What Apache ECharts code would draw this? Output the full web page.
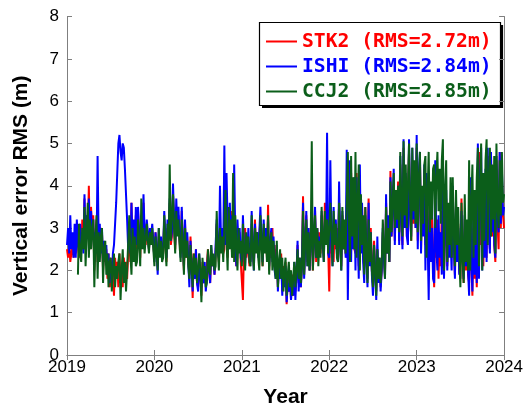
<!doctype html>
<html lang="en">
<head>
<meta charset="UTF-8">
<title>Vertical error RMS</title>
<style>
  html, body { margin: 0; padding: 0; background: #fff; }
  #main { width: 526px; height: 413px; }
</style>
</head>
<body>
<div id="main"></div>
<script src="https://cdn.jsdelivr.net/npm/echarts@6/dist/echarts.min.js"></script>
<script>
// samples every 1/80 year starting 2019.0, one row = 0.1 year
var startYear = 2019;
var stepsPerYear = 80;

var stk2 = [
  2.5, 2.3, 2.6, 2.2, 2.4, 2.6, 2.3, 2.5,
  2.4, 3.1, 2.6, 2.3, 3.0, 2.5, 3.2, 2.7,
  3.7, 2.6, 3.3, 2.8, 4.0, 2.5, 3.5, 2.9,
  3.3, 2.0, 2.8, 3.2, 2.2, 2.9, 2.4, 3.0,
  2.9, 2.0, 2.6, 2.2, 2.5, 1.8, 2.4, 1.6,
  2.3, 1.6, 2.1, 1.4, 2.3, 1.8, 2.2, 1.6,
  2.4, 1.7, 2.0, 1.6, 2.3, 1.9, 2.2, 1.8,
  2.4, 2.9, 2.2, 3.6, 2.5, 3.1, 2.2, 3.3,
  2.5, 3.4, 2.8, 2.3, 3.2, 2.6, 3.6, 2.7,
  2.6, 3.1, 2.8, 2.5, 3.0, 2.7, 2.9, 2.6,
  2.3, 2.9, 2.5, 2.1, 2.8, 2.4, 2.7, 2.3,
  2.4, 3.2, 2.7, 2.2, 3.0, 2.8, 3.6, 2.6,
  2.8, 3.8, 3.0, 2.5, 3.5, 2.9, 3.3, 2.7,
  2.4, 3.4, 2.6, 2.0, 3.1, 2.3, 2.8, 2.2,
  1.9, 2.8, 2.2, 1.35, 2.4, 1.8, 2.5, 1.7,
  1.6, 2.3, 1.9, 1.4, 2.2, 1.7, 2.0, 1.8,
  1.8, 2.5, 2.0, 1.7, 2.4, 2.1, 2.3, 1.9,
  2.4, 3.1, 2.6, 2.2, 2.9, 2.5, 3.0, 2.4,
  2.5, 3.6, 2.8, 2.3, 3.3, 2.6, 3.4, 2.4,
  2.3, 3.2, 2.5, 2.1, 3.0, 2.6, 2.9, 2.2,
  2.2, 1.3, 2.6, 3.0, 2.3, 2.8, 2.4, 2.1,
  2.3, 3.1, 2.5, 2.1, 3.2, 2.6, 2.9, 2.4,
  2.4, 3.2, 2.6, 2.1, 3.0, 2.5, 2.8, 2.3,
  3.55, 2.0, 2.8, 2.3, 3.0, 2.1, 2.6, 1.9,
  2.5, 1.6, 2.2, 1.8, 2.4, 1.5, 2.1, 1.7,
  2.2, 1.2, 1.8, 1.5, 2.0, 1.3, 1.9, 1.4,
  2.1, 1.5, 1.9, 2.6, 1.7, 2.3, 1.6, 2.2,
  3.75, 1.9, 2.7, 3.3, 2.2, 3.0, 2.0, 2.8,
  3.3, 2.0, 2.7, 3.4, 2.2, 3.0, 2.4, 2.9,
  2.4, 3.3, 2.7, 2.3, 3.6, 2.6, 3.2, 2.5,
  1.5, 3.4, 2.4, 2.9, 2.2, 3.2, 2.5, 3.0,
  2.3, 3.6, 2.6, 2.1, 3.3, 2.5, 3.1, 2.4,
  2.3, 4.5, 3.0, 2.6, 4.3, 2.8, 3.8, 2.5,
  2.4, 4.3, 2.9, 2.1, 3.8, 2.6, 3.5, 2.3,
  2.1, 3.5, 2.5, 1.8, 3.7, 2.2, 3.0, 2.0,
  1.7, 2.7, 2.0, 1.5, 2.5, 1.8, 2.3, 1.6,
  2.0, 2.9, 2.3, 1.9, 3.6, 2.4, 3.2, 2.2,
  4.35, 2.8, 3.6, 4.0, 2.7, 3.8, 3.0, 4.1,
  2.7, 4.5, 3.2, 2.6, 4.9, 3.0, 4.2, 2.8,
  2.8, 4.8, 3.4, 2.7, 4.6, 3.1, 4.4, 3.0,
  4.9, 2.7, 4.1, 4.6, 2.5, 3.8, 2.9, 4.4,
  2.6, 4.2, 3.0, 2.0, 3.7, 2.4, 3.3, 2.2,
  1.6, 3.6, 2.3, 3.2, 1.8, 2.9, 2.1, 3.4,
  3.3, 2.0, 2.8, 3.7, 2.1, 3.2, 2.4, 3.0,
  2.3, 3.5, 2.6, 1.9, 3.6, 2.2, 3.1, 2.0,
  1.8, 3.7, 2.4, 1.7, 3.2, 2.0, 2.9, 1.9,
  1.7, 3.4, 2.2, 1.4, 3.0, 1.8, 2.6, 1.6,
  3.2, 2.0, 4.8, 2.6, 4.1, 2.1, 3.6, 2.4,
  2.3, 4.7, 3.0, 2.5, 4.8, 2.8, 4.3, 2.6,
  2.2, 4.6, 3.1, 2.5, 4.8, 3.0, 4.2, 3.3,
  3.0
];

var ishi = [
  2.6, 3.0, 2.4, 3.3, 2.5, 2.9, 2.3, 3.1,
  2.3, 3.2, 2.6, 2.4, 3.1, 2.5, 2.9, 2.4,
  3.8, 2.5, 3.3, 2.8, 3.7, 2.6, 3.4, 2.8,
  3.2, 2.2, 2.9, 2.4, 4.7, 2.6, 3.1, 2.4,
  3.0, 2.1, 2.7, 2.3, 2.6, 1.9, 2.4, 1.7,
  2.2, 1.8, 2.4, 2.6, 3.1, 3.6, 4.3, 5.0,
  5.2, 4.8, 4.6, 5.0, 4.9, 4.4, 3.8, 3.2,
  2.5, 2.8, 2.4, 3.6, 2.6, 3.2, 2.4, 3.5,
  2.6, 3.5, 2.9, 2.6, 3.3, 2.8, 3.8, 2.9,
  2.7, 3.2, 2.9, 2.5, 3.0, 2.8, 3.1, 2.7,
  2.2, 2.9, 2.5, 1.9, 3.0, 2.4, 2.8, 2.3,
  2.5, 3.4, 2.8, 2.3, 3.2, 2.9, 3.7, 2.7,
  2.9, 4.05, 3.2, 2.6, 3.7, 3.0, 3.5, 2.8,
  2.3, 3.5, 2.7, 2.1, 3.2, 2.4, 2.9, 2.2,
  1.6, 2.7, 2.1, 1.5, 2.3, 1.8, 2.5, 1.7,
  1.5, 2.4, 1.8, 1.6, 2.0, 1.7, 2.2, 1.5,
  1.8, 2.4, 2.0, 1.7, 2.6, 2.1, 2.3, 1.9,
  2.6, 3.2, 2.4, 2.3, 4.0, 2.6, 3.0, 2.5,
  4.95, 2.6, 4.3, 3.1, 2.5, 3.6, 2.7, 3.3,
  2.4, 4.5, 2.8, 2.1, 3.2, 2.6, 3.0, 2.3,
  2.2, 3.3, 2.5, 2.1, 2.8, 2.4, 3.0, 2.3,
  2.2, 3.4, 2.6, 2.0, 3.1, 2.5, 2.9, 2.3,
  2.3, 3.5, 2.7, 2.2, 3.2, 2.5, 3.0, 2.4,
  3.2, 2.1, 2.7, 3.0, 2.2, 2.8, 2.0, 1.8,
  2.6, 1.5, 2.2, 1.8, 2.3, 1.4, 2.0, 1.6,
  2.1, 1.25, 1.7, 1.5, 1.9, 1.3, 1.8, 1.4,
  2.2, 1.3, 1.9, 2.7, 1.5, 2.3, 1.6, 2.1,
  3.6, 1.8, 2.6, 3.4, 2.1, 3.0, 2.0, 2.8,
  3.2, 2.1, 2.7, 3.5, 2.3, 3.0, 2.4, 2.8,
  2.5, 3.4, 2.7, 2.2, 3.3, 2.6, 5.25, 2.4,
  2.3, 4.6, 2.7, 2.1, 3.5, 2.6, 3.2, 2.4,
  2.2, 4.1, 2.7, 2.0, 3.4, 2.5, 3.1, 2.3,
  4.85, 1.3, 3.3, 4.6, 2.2, 3.8, 2.5, 4.2,
  2.0, 4.2, 2.8, 1.8, 4.5, 2.4, 3.6, 2.2,
  1.7, 3.3, 2.3, 1.6, 3.6, 2.1, 2.9, 1.9,
  1.4, 2.6, 1.9, 1.3, 2.8, 1.7, 2.3, 1.5,
  2.0, 3.0, 2.3, 1.8, 3.8, 2.4, 3.3, 2.2,
  4.2, 2.8, 3.6, 4.4, 2.6, 3.9, 3.0, 4.0,
  2.6, 4.7, 3.3, 2.5, 5.1, 3.0, 4.3, 2.8,
  2.6, 5.1, 3.4, 2.8, 4.9, 3.2, 4.5, 3.0,
  5.2, 2.5, 4.3, 4.8, 2.4, 3.9, 2.8, 4.5,
  2.0, 4.3, 2.8, 1.3, 3.5, 2.2, 3.0, 1.8,
  1.7, 4.6, 2.5, 2.0, 3.3, 2.3, 2.9, 1.9,
  4.6, 1.8, 3.2, 3.9, 2.0, 3.0, 2.3, 2.8,
  2.0, 4.0, 2.6, 1.8, 3.4, 2.2, 3.0, 1.9,
  1.9, 3.4, 2.3, 1.8, 3.3, 2.1, 2.8, 2.0,
  1.4, 4.2, 2.2, 1.5, 3.6, 1.9, 3.1, 1.7,
  5.0, 1.8, 4.2, 4.9, 2.0, 3.7, 2.3, 4.4,
  2.2, 4.9, 3.0, 2.4, 4.8, 2.9, 4.3, 2.6,
  2.3, 4.7, 3.2, 2.9, 4.8, 3.1, 4.4, 3.3,
  3.5
];

var ccj2 = [
  null, null, null, null, null, null, null, null,
  null, null, 1.9, 3.1, 2.4, 2.2, 3.0, 2.5,
  3.5, 2.1, 2.9, 3.6, 2.3, 3.2, 2.5, 3.0,
  3.2, 1.6, 2.7, 3.3, 1.8, 2.9, 2.2, 2.8,
  3.0, 1.7, 2.5, 2.7, 1.9, 2.4, 1.6, 2.2,
  2.3, 1.5, 2.0, 2.4, 1.6, 2.1, 1.8, 2.2,
  2.4, 1.3, 2.0, 2.5, 1.7, 2.2, 1.5, 2.0,
  2.0, 3.3, 2.4, 1.9, 3.0, 2.2, 2.8, 2.1,
  2.2, 3.2, 2.6, 2.1, 3.7, 2.5, 3.0, 2.4,
  2.4, 3.1, 2.7, 2.4, 2.9, 2.6, 3.0, 2.5,
  2.1, 2.8, 2.4, 2.0, 3.0, 2.3, 2.7, 2.2,
  2.3, 3.3, 2.6, 2.1, 3.1, 2.5, 4.5, 2.7,
  2.7, 3.8, 3.0, 2.4, 3.4, 2.8, 3.2, 2.6,
  2.2, 3.2, 2.6, 1.9, 3.0, 2.3, 2.7, 2.1,
  1.8, 2.6, 2.1, 1.6, 2.4, 1.9, 2.3, 1.7,
  1.7, 2.4, 2.0, 1.25, 2.3, 1.8, 2.1, 1.6,
  1.7, 2.5, 2.0, 1.9, 2.6, 2.1, 2.4, 2.0,
  2.1, 3.4, 2.5, 2.0, 3.0, 2.4, 2.8, 2.2,
  2.2, 3.9, 2.7, 2.0, 3.5, 2.5, 3.2, 2.3,
  4.3, 2.2, 3.3, 2.6, 2.0, 3.0, 2.4, 2.7,
  2.1, 3.1, 2.5, 2.0, 2.9, 2.4, 2.8, 2.2,
  2.1, 3.3, 2.5, 2.0, 3.0, 2.4, 2.9, 2.3,
  2.0, 3.3, 2.6, 2.1, 3.1, 2.4, 2.8, 2.2,
  3.3, 1.9, 2.6, 2.9, 2.0, 2.7, 2.1, 1.8,
  2.7, 1.6, 2.2, 2.5, 1.8, 2.3, 1.5, 2.0,
  2.3, 1.4, 1.9, 2.2, 1.6, 2.0, 1.4, 1.8,
  2.2, 1.6, 2.0, 2.5, 1.8, 2.3, 1.7, 2.1,
  3.4, 1.9, 2.7, 3.2, 2.1, 2.9, 2.0, 2.6,
  5.05, 2.0, 2.8, 3.3, 2.3, 3.0, 2.1, 2.7,
  2.3, 3.5, 2.7, 2.2, 3.4, 2.6, 3.2, 2.4,
  2.4, 3.6, 2.8, 2.1, 3.4, 2.6, 3.1, 2.3,
  2.2, 3.6, 2.7, 2.0, 3.5, 2.5, 3.2, 2.4,
  2.4, 4.8, 3.1, 2.2, 4.7, 2.8, 4.2, 2.5,
  4.8, 2.3, 3.6, 4.5, 2.0, 3.8, 2.6, 3.3,
  1.9, 3.5, 2.4, 1.7, 3.2, 2.2, 2.9, 2.0,
  1.6, 2.6, 2.0, 1.4, 2.5, 1.8, 2.3, 1.7,
  2.1, 3.2, 2.5, 1.8, 3.5, 2.4, 3.0, 2.2,
  4.1, 2.9, 3.6, 4.3, 3.0, 3.9, 3.2, 4.0,
  2.9, 4.8, 3.5, 2.8, 5.05, 3.3, 4.5, 3.0,
  3.0, 5.0, 3.6, 2.7, 4.9, 3.4, 4.6, 3.1,
  5.0, 2.9, 4.2, 4.8, 2.7, 4.0, 3.1, 4.5,
  4.7, 2.3, 3.8, 4.8, 2.9, 4.1, 3.2, 4.4,
  4.5, 3.0, 4.2, 4.8, 3.4, 4.4, 3.1, 4.6,
  5.1, 2.0, 3.9, 4.6, 2.2, 3.6, 2.6, 4.2,
  2.3, 4.2, 2.9, 2.1, 3.9, 2.6, 3.5, 2.4,
  1.6, 3.6, 2.3, 1.7, 3.8, 2.2, 3.2, 2.0,
  4.6, 2.0, 3.6, 4.5, 2.3, 3.9, 2.6, 4.2,
  4.9, 2.1, 4.0, 5.0, 2.0, 4.3, 2.7, 4.6,
  5.1, 2.6, 4.2, 4.9, 2.8, 4.5, 3.2, 4.7,
  2.4, 5.0, 3.5, 3.0, 4.6, 3.3, 4.8, 3.6,
  3.8
];

function toPairs(values) {
    var out = [];
    for (var i = 0; i < values.length; i++) {
        out.push([startYear + i / stepsPerYear, values[i]]);
    }
    return out;
}

var axisGray = '#7f7f7f';
var tickFont = { fontFamily: 'Liberation Sans', fontSize: 17, color: '#000' };

var myChart = echarts.init(document.getElementById('main'));

var option = {
    animation: false,
    backgroundColor: '#fff',
    grid: { left: 67, right: 20, top: 16.5, bottom: 48 },
    // legend frame: white box plus a black drop shadow on the right and bottom
    graphic: [
        { type: 'rect', shape: { x: 259.5, y: 22.5, width: 241, height: 83 },
          style: { fill: '#fff', stroke: '#000', lineWidth: 1.2 } },
        { type: 'rect', shape: { x: 500.5, y: 25, width: 2.6, height: 83 }, style: { fill: '#000' } },
        { type: 'rect', shape: { x: 262, y: 105.5, width: 241, height: 2.6 }, style: { fill: '#000' } }
    ],
    legend: {
        z: 100,
        orient: 'vertical',
        left: 266,
        top: 31.5,
        data: [
            { name: 'STK2 (RMS=2.72m)', textStyle: { color: '#ff0000' } },
            { name: 'ISHI (RMS=2.84m)', textStyle: { color: '#0000ff' } },
            { name: 'CCJ2 (RMS=2.85m)', textStyle: { color: '#0b5e1a' } }
        ],
        icon: 'rect',
        itemWidth: 31,
        itemHeight: 2,
        itemGap: 5,
        padding: 0,
        backgroundColor: 'transparent',
        borderWidth: 0,
        borderRadius: 0,
        shadowBlur: 0,
        shadowColor: 'transparent',
        textStyle: {
            fontFamily: 'DejaVu Sans Mono',
            fontWeight: 'bold',
            fontSize: 19.7
        }
    },
    xAxis: [{
        type: 'value',
        min: 2019,
        max: 2024,
        interval: 1,
        name: 'Year',
        nameLocation: 'middle',
        nameGap: 32,
        nameTextStyle: { fontFamily: 'Liberation Sans', fontWeight: 'bold', fontSize: 21, color: '#000' },
        axisLine: { lineStyle: { color: axisGray, width: 1 } },
        axisTick: { inside: true, length: 5, lineStyle: { color: axisGray } },
        axisLabel: Object.assign({ margin: 4, formatter: function (v) { return String(v); } }, tickFont),
        splitLine: { show: false }
    }, {
        type: 'value',
        position: 'top',
        min: 2019,
        max: 2024,
        interval: 1,
        axisLine: { lineStyle: { color: axisGray, width: 1 } },
        axisTick: { inside: true, length: 5, lineStyle: { color: axisGray } },
        axisLabel: { show: false },
        splitLine: { show: false }
    }],
    yAxis: [{
        type: 'value',
        min: 0,
        max: 8,
        interval: 1,
        name: 'Vertical error RMS (m)',
        nameLocation: 'middle',
        nameGap: 35.5,
        nameTextStyle: { fontFamily: 'Liberation Sans', fontWeight: 'bold', fontSize: 21, color: '#000' },
        axisLine: { show: true, lineStyle: { color: axisGray, width: 1 } },
        axisTick: { show: true, inside: true, length: 5, lineStyle: { color: axisGray } },
        axisLabel: Object.assign({ margin: 8 }, tickFont),
        splitLine: { show: false }
    }, {
        type: 'value',
        position: 'right',
        min: 0,
        max: 8,
        interval: 1,
        axisLine: { show: true, lineStyle: { color: axisGray, width: 1 } },
        axisTick: { show: true, inside: true, length: 5, lineStyle: { color: axisGray } },
        axisLabel: { show: false },
        splitLine: { show: false }
    }],
    series: [
        {
            name: 'STK2 (RMS=2.72m)', type: 'line', symbol: 'none',
            data: toPairs(stk2), color: '#ff0000',
            lineStyle: { width: 2 }
        },
        {
            name: 'ISHI (RMS=2.84m)', type: 'line', symbol: 'none',
            data: toPairs(ishi), color: '#0000ff',
            lineStyle: { width: 2 }
        },
        {
            name: 'CCJ2 (RMS=2.85m)', type: 'line', symbol: 'none',
            data: toPairs(ccj2), color: '#0b5e1a',
            lineStyle: { width: 2 }
        }
    ]
};

myChart.setOption(option);
</script>
</body>
</html>
